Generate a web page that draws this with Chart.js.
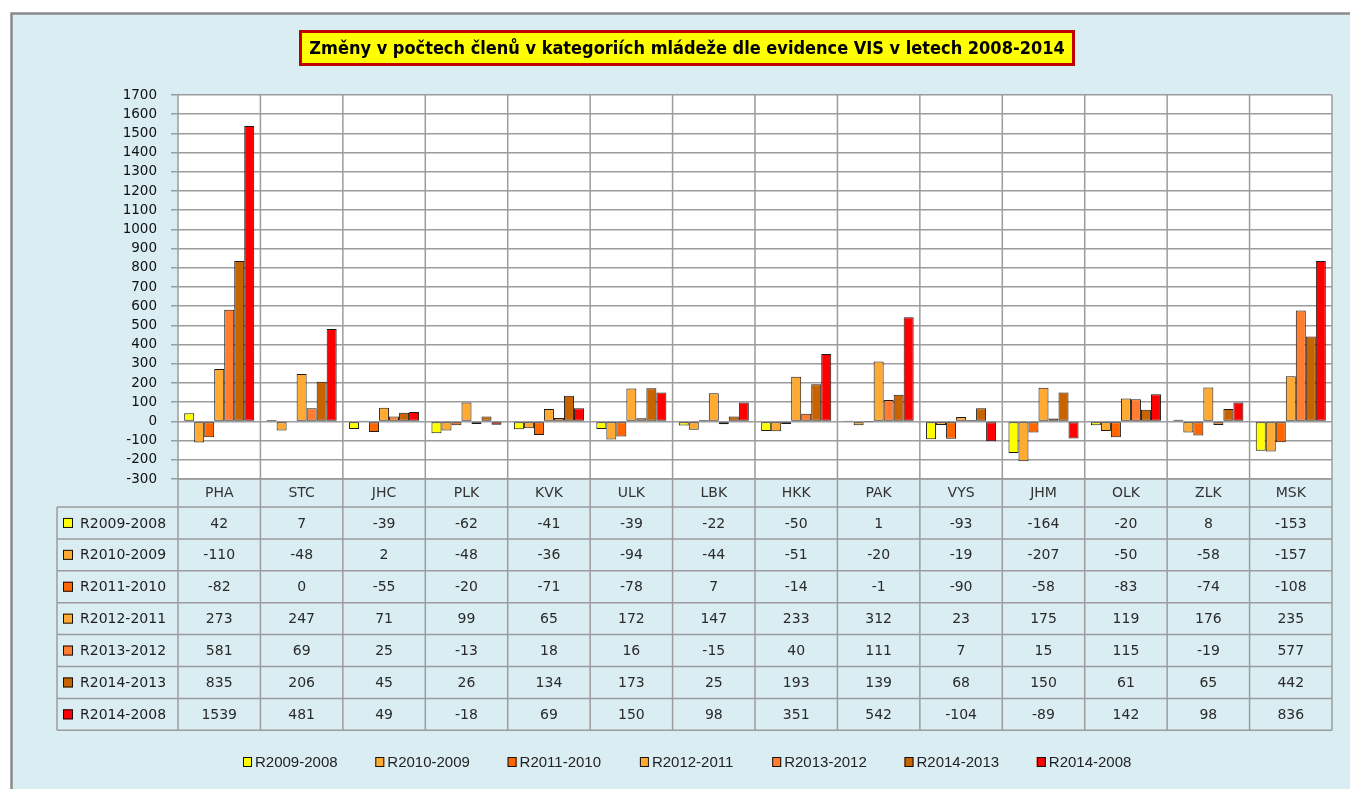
<!DOCTYPE html>
<html>
<head>
<meta charset="utf-8">
<script src="https://cdn.jsdelivr.net/npm/chart.js@4/dist/chart.umd.min.js"></script>
<style>
  html, body { margin: 0; padding: 0; background: #fff; }
  #wrap { width: 1350px; height: 789px; }
</style>
</head>
<body>
<div id="wrap"><canvas id="c" width="1350" height="789"></canvas></div>
<script>
// Změny v počtech členů
const titleText = 'Změny v počtech členů v kategoriích mládeže dle evidence VIS v letech 2008-2014';
const categories = ['PHA', 'STC', 'JHC', 'PLK', 'KVK', 'ULK', 'LBK', 'HKK', 'PAK', 'VYS', 'JHM', 'OLK', 'ZLK', 'MSK'];
const seriesNames = ['R2009-2008', 'R2010-2009', 'R2011-2010', 'R2012-2011', 'R2013-2012', 'R2014-2013', 'R2014-2008'];

const r2009_2008 = [42, 7, -39, -62, -41, -39, -22, -50, 1, -93, -164, -20, 8, -153];
const r2010_2009 = [-110, -48, 2, -48, -36, -94, -44, -51, -20, -19, -207, -50, -58, -157];
const r2011_2010 = [-82, 0, -55, -20, -71, -78, 7, -14, -1, -90, -58, -83, -74, -108];
const r2012_2011 = [273, 247, 71, 99, 65, 172, 147, 233, 312, 23, 175, 119, 176, 235];
const r2013_2012 = [581, 69, 25, -13, 18, 16, -15, 40, 111, 7, 15, 115, -19, 577];
const r2014_2013 = [835, 206, 45, 26, 134, 173, 25, 193, 139, 68, 150, 61, 65, 442];
const r2014_2008 = [1539, 481, 49, -18, 69, 150, 98, 351, 542, -104, -89, 142, 98, 836];

const yMin = -300, yMax = 1700, yStep = 100;

const seriesValues = [r2009_2008, r2010_2009, r2011_2010, r2012_2011, r2013_2012, r2014_2013, r2014_2008];
const seriesColors = ['#ffff00', '#ffaa33', '#ff6600', '#ffaa33', '#ff7c30', '#c86400', '#ff0000'];

const BG = '#daedf3';
const LINE = '#9c9c9c';
const HEADER_H = 28;
const ROW_H = 31.9;
const TABLE_LEFT = 57;

const tablePlugin = {
  id: 'tablePlugin',
  beforeDraw(chart) {
    const ctx = chart.ctx;
    const a = chart.chartArea;
    ctx.save();
    ctx.fillStyle = '#fff';
    ctx.fillRect(0, 0, chart.width, chart.height);
    ctx.fillStyle = BG;
    ctx.fillRect(11, 13, chart.width - 11, chart.height - 13);
    ctx.strokeStyle = '#8a8a8a';
    ctx.lineWidth = 2.5;
    ctx.beginPath();
    ctx.moveTo(11.5, chart.height);
    ctx.lineTo(11.5, 13.5);
    ctx.lineTo(chart.width, 13.5);
    ctx.stroke();
    ctx.fillStyle = '#fff';
    ctx.fillRect(a.left, a.top, a.right - a.left, a.bottom - a.top);
    ctx.restore();
  },
  afterDraw(chart) {
    const ctx = chart.ctx;
    const a = chart.chartArea;
    const x = chart.scales.x;
    const n = categories.length;
    const colW = (a.right - a.left) / n;
    const tableTop = a.bottom + HEADER_H;
    const tableBottom = tableTop + ROW_H * seriesNames.length;

    ctx.save();
    ctx.strokeStyle = LINE;
    ctx.lineWidth = 1.5;
    ctx.beginPath();
    // vertical separators through plot and table
    for (let i = 0; i <= n; i++) {
      const vx = a.left + i * colW;
      ctx.moveTo(vx, a.top);
      ctx.lineTo(vx, tableBottom);
    }
    ctx.moveTo(TABLE_LEFT, tableTop);
    ctx.lineTo(TABLE_LEFT, tableBottom);
    // horizontal table lines
    ctx.moveTo(a.left, a.bottom);
    ctx.lineTo(a.right, a.bottom);
    for (let r = 0; r <= seriesNames.length; r++) {
      const hy = tableTop + r * ROW_H;
      ctx.moveTo(TABLE_LEFT, hy);
      ctx.lineTo(a.right, hy);
    }
    ctx.stroke();

    // table rows
    ctx.font = '14px "DejaVu Sans"';
    ctx.textBaseline = 'middle';
    seriesNames.forEach((name, r) => {
      const cy = tableTop + r * ROW_H + ROW_H / 2;
      ctx.fillStyle = seriesColors[r];
      ctx.fillRect(63, cy - 5, 10, 10);
      ctx.strokeStyle = '#111';
      ctx.lineWidth = 1;
      ctx.strokeRect(63.5, cy - 4.5, 9, 9);
      ctx.fillStyle = '#1e1e1e';
      ctx.textAlign = 'left';
      ctx.fillText(name, 80, cy + 1);
      ctx.fillStyle = '#2a2a2a';
      ctx.textAlign = 'center';
      seriesValues[r].forEach((v, i) => {
        ctx.fillText(String(v), x.getPixelForValue(i), cy + 1);
      });
    });

    // legend at the bottom
    ctx.font = '15px "Liberation Sans"';
    ctx.textAlign = 'left';
    const ly = 762;
    seriesNames.forEach((name, i) => {
      const lx = 243 + i * 132.3;
      ctx.fillStyle = seriesColors[i];
      ctx.fillRect(lx, ly - 5, 9, 10);
      ctx.strokeStyle = '#111';
      ctx.lineWidth = 1;
      ctx.strokeRect(lx + 0.5, ly - 4.5, 8, 9);
      ctx.fillStyle = '#222';
      ctx.fillText(name, lx + 12, ly + 1);
    });

    // title box
    const tx0 = 299, tx1 = 1075, ty0 = 30, ty1 = 66;
    ctx.fillStyle = '#ffff00';
    ctx.fillRect(tx0, ty0, tx1 - tx0, ty1 - ty0);
    ctx.strokeStyle = '#c00000';
    ctx.lineWidth = 3;
    ctx.strokeRect(tx0 + 1.5, ty0 + 1.5, tx1 - tx0 - 3, ty1 - ty0 - 3);
    const fam = '"Liberation Sans Narrow", "DejaVu Sans Condensed", "Liberation Sans"';
    let fs = 20;
    ctx.font = 'bold ' + fs + 'px ' + fam;
    while (ctx.measureText(titleText).width > 760 && fs > 10) {
      fs -= 0.5;
      ctx.font = 'bold ' + fs + 'px ' + fam;
    }
    ctx.fillStyle = '#000';
    ctx.textAlign = 'center';
    ctx.fillText(titleText, (tx0 + tx1) / 2, (ty0 + ty1) / 2 + 1);
    ctx.restore();
  }
};

const datasets = seriesNames.map((name, i) => ({
  label: name,
  data: seriesValues[i],
  backgroundColor: seriesColors[i],
  borderColor: '#1a1a1a',
  borderWidth: 1,
  borderSkipped: false,
  categoryPercentage: 0.85,
  barPercentage: 1.0
}));

new Chart(document.getElementById('c'), {
  type: 'bar',
  data: { labels: categories, datasets: datasets },
  options: {
    responsive: false,
    animation: false,
    layout: { padding: { left: 118, top: 95, right: 18, bottom: 282 } },
    plugins: {
      legend: { display: false },
      title: { display: false },
      tooltip: { enabled: false }
    },
    scales: {
      x: {
        grid: { display: false, drawTicks: false },
        border: { display: false },
        ticks: { color: '#333', font: { family: 'DejaVu Sans', size: 14 }, padding: 6 },
        afterFit(scale) { scale.height = HEADER_H; }
      },
      y: {
        min: yMin,
        max: yMax,
        grid: { color: LINE, lineWidth: 1.5, drawTicks: true, tickLength: 7 },
        border: { display: false },
        ticks: {
          stepSize: yStep,
          autoSkip: false,
          color: '#111',
          padding: 14,
          font: { family: 'DejaVu Sans', size: 13.5 },
          callback: (v) => String(v)
        },
        afterFit(scale) { scale.width = 60; }
      }
    }
  },
  plugins: [tablePlugin]
});
</script>
</body>
</html>
